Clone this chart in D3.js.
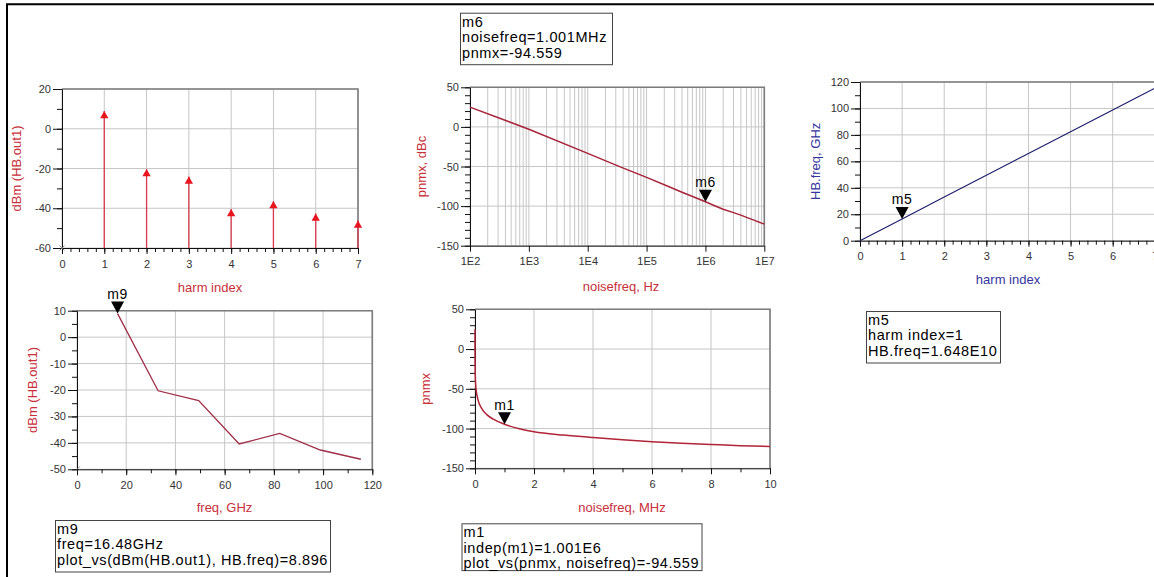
<!DOCTYPE html>
<html><head><meta charset="utf-8">
<script src="https://cdn.jsdelivr.net/npm/d3@7"></script>
<style>
html,body{margin:0;padding:0;background:#fff;overflow:hidden}
svg{display:block;font-family:"Liberation Sans",Arial,sans-serif}
</style></head><body>
<svg id="c" width="1154" height="577"></svg>
<script>
// ---------------- data ----------------
const harmIndex = [0, 1, 2, 3, 4, 5, 6, 7];
const hbFreqGHz = [0, 16.48, 32.96, 49.44, 65.92, 82.40, 98.88, 115.36];
// dBm(HB.out1) per harmonic (DC term is below the plotted range)
const harmDbm = [null, 8.896, -20.3, -24.0, -40.4, -36.4, -42.7, -46.2];

const noiseFreqHz = [1e2, 1e3, 1e4, 3.4e4, 1e5, 2.3e5, 4e5, 6.2e5, 1.001e6, 1.5e6, 2e6, 3e6, 4e6, 5e6, 6e6, 7e6, 8e6, 9e6, 1e7];
const pnmx       = [25, -3, -33.4, -49.8, -63.7, -75.0, -82.5, -88.2, -94.559, -100.2, -104.0, -108.2, -111.4, -114.2, -116.5, -118.4, -120.0, -121.5, -122.6];

const harmTicks = [0, 1, 2, 3, 4, 5, 6, 7];
const dbmTicksTop = [-60, -40, -20, 0, 20];
const dbmTicksBot = [-50, -40, -30, -20, -10, 0, 10];
const pnTicks = [-150, -100, -50, 0, 50];
const logTicks = [1e2, 1e3, 1e4, 1e5, 1e6, 1e7];
const logTickLabels = ["1E2", "1E3", "1E4", "1E5", "1E6", "1E7"];
const ghzTicks = [0, 20, 40, 60, 80, 100, 120];
const mhzTicks = [0, 2, 4, 6, 8, 10];
const hbTicks = [0, 20, 40, 60, 80, 100, 120];

const m6Text = ["m6", "noisefreq=1.001MHz", "pnmx=-94.559"];
const m5Text = ["m5", "harm index=1", "HB.freq=1.648E10"];
const m9Text = ["m9", "freq=16.48GHz", "plot_vs(dBm(HB.out1), HB.freq)=8.896"];
const m1Text = ["m1", "indep(m1)=1.001E6", "plot_vs(pnmx, noisefreq)=-94.559"];

// ---------------- drawing ----------------
const svg = d3.select("#c");
const RED = "#c8303a", BLUE = "#34349c";

svg.append("path").attr("d", "M7,577V4.2H1154").attr("fill", "none")
  .attr("stroke", "#000").attr("stroke-width", 2);

function range(a, b, s) { const r = []; for (let v = a; v <= b + 1e-9; v += s) r.push(+v.toFixed(6)); return r; }

function drawPlot(o) {
  const x = o.x, y = o.y;
  const [xl, xr] = x.range(); const [yb, yt] = y.range();
  const g = svg.append("g");
  g.append("g").selectAll("line").data(o.xGrid).join("line")
    .attr("x1", d => x(d)).attr("x2", d => x(d)).attr("y1", yt).attr("y2", yb)
    .attr("stroke", "#c6c6c6").attr("stroke-width", 1);
  g.append("g").selectAll("line").data(o.yGrid).join("line")
    .attr("y1", d => y(d)).attr("y2", d => y(d)).attr("x1", xl).attr("x2", xr)
    .attr("stroke", "#c6c6c6").attr("stroke-width", 1);
  g.append("path").attr("d", `M${xl},${yt}H${xr}V${yb}`).attr("fill", "none")
    .attr("stroke", "#7c7c7c").attr("stroke-width", 1.6);

  const style = s => {
    s.attr("font-family", null).attr("font-size", null);
    s.selectAll("text").attr("font-size", "11px").attr("fill", "#333");
    s.selectAll("line").attr("stroke", "#111");
    s.select(".domain").attr("stroke", "#111");
  };
  if (o.xMinor) g.append("g").attr("transform", `translate(0,${yb})`)
    .call(d3.axisBottom(x).tickValues(o.xMinor).tickSize(4).tickFormat(""))
    .call(s => s.select(".domain").remove()).call(style);
  g.append("g").attr("transform", `translate(0,${yb})`)
    .call(d3.axisBottom(x).tickValues(o.xMajor).tickSize(6).tickPadding(6).tickFormat(o.xFmt || (d => d)).tickSizeOuter(0))
    .call(style);
  if (o.yMinor) g.append("g").attr("transform", `translate(${xl},0)`)
    .call(d3.axisLeft(y).tickValues(o.yMinor).tickSize(5).tickFormat(""))
    .call(s => s.select(".domain").remove()).call(style);
  g.append("g").attr("transform", `translate(${xl},0)`)
    .call(d3.axisLeft(y).tickValues(o.yMajor).tickSize(9).tickPadding(2).tickFormat(d => d).tickSizeOuter(0))
    .call(style);

  g.append("text").attr("x", o.xTitleX).attr("y", o.xTitleY).attr("text-anchor", "middle")
    .attr("font-size", "13px").attr("fill", o.color).text(o.xTitle);
  g.append("text").attr("transform", `translate(${o.yTitleX},${(yt + yb) / 2}) rotate(-90)`)
    .attr("text-anchor", "middle").attr("dy", "0.35em")
    .attr("font-size", "13px").attr("fill", o.color).text(o.yTitle);
  return g;
}

function marker(g, px, py, name) {
  g.append("path").attr("d", `M${px - 6.5},${py - 12}L${px + 6.5},${py - 12}L${px},${py}Z`).attr("fill", "#000");
  g.append("text").attr("x", px).attr("y", py - 14.5).attr("text-anchor", "middle")
    .attr("font-size", "14px").attr("letter-spacing", "0.6px").attr("fill", "#000").text(name);
}

function box(bx, by, bw, bh, lines) {
  const g = svg.append("g");
  g.append("rect").attr("x", bx + 0.5).attr("y", by + 0.5).attr("width", bw).attr("height", bh)
    .attr("fill", "#fff").attr("stroke", "#444").attr("stroke-width", 1);
  g.selectAll("text").data(lines).join("text")
    .attr("x", bx + 2).attr("y", (d, i) => by + 13.8 + i * 15.6)
    .attr("font-size", "14.5px").attr("letter-spacing", "0.6px").attr("fill", "#000").text(d => d);
}

// ---- Plot 1: dBm(HB.out1) vs harmindex (stems) ----
{
  const x = d3.scaleLinear().domain([0, 7]).range([62, 358]);
  const y = d3.scaleLinear().domain([-60, 20]).range([248, 89]);
  const g = drawPlot({ x, y, xGrid: harmTicks, yGrid: dbmTicksTop, xMajor: harmTicks, xMinor: range(0, 7, 0.2),
    yMajor: dbmTicksTop, yMinor: range(-60, 20, 10), color: RED, xTitle: "harm index", xTitleX: 210, xTitleY: 291.5,
    yTitle: "dBm (HB.out1)", yTitleX: 16.5 });
  const pts = harmIndex.map((h, i) => [h, harmDbm[i]]).filter(d => d[1] !== null);
  g.append("g").selectAll("line").data(pts).join("line")
    .attr("x1", d => x(d[0])).attr("x2", d => x(d[0])).attr("y1", y(-60)).attr("y2", d => y(d[1]))
    .attr("stroke", "#d83a4c").attr("stroke-width", 1.3);
  g.append("g").selectAll("path").data(pts).join("path")
    .attr("transform", d => `translate(${x(d[0])},${y(d[1]) + 4.8})`)
    .attr("d", d3.symbol(d3.symbolTriangle).size(30)).attr("fill", "#e8141e");
  // clipped DC point indicator
  const cx = x(harmIndex[0]), cy = y(-60);
  g.append("path").attr("d", `M${cx - 2.5},${cy - 2.5}L${cx + 2.5},${cy + 2.5}M${cx - 2.5},${cy + 2.5}L${cx + 2.5},${cy - 2.5}`)
    .attr("stroke", "#777").attr("stroke-width", 0.8);
}

// ---- Plot 2: pnmx vs noisefreq (log) ----
{
  const x = d3.scaleLog().domain([1e2, 1e7]).range([470, 764.3]);
  const y = d3.scaleLinear().domain([-150, 50]).range([245.7, 87.3]);
  const g = drawPlot({ x, y, xGrid: x.ticks(), yGrid: pnTicks, xMajor: logTicks,
    xFmt: (d, i) => logTickLabels[i], yMajor: pnTicks, yMinor: range(-150, 50, 10), color: RED,
    xTitle: "noisefreq, Hz", xTitleX: 621, xTitleY: 290.5, yTitle: "pnmx, dBc", yTitleX: 421 });
  const line = d3.line().x(d => x(d[0])).y(d => y(d[1]));
  g.append("path").datum(noiseFreqHz.map((f, i) => [f, pnmx[i]])).attr("d", line)
    .attr("fill", "none").attr("stroke", "#a8243a").attr("stroke-width", 1.5);
  marker(g, x(noiseFreqHz[8]), y(pnmx[8]), "m6");
}

// ---- Plot 3: HB.freq vs harmindex ----
{
  const x = d3.scaleLinear().domain([0, 7]).range([860, 1154.8]);
  const y = d3.scaleLinear().domain([0, 120]).range([240.7, 82]);
  const g = drawPlot({ x, y, xGrid: harmTicks, yGrid: hbTicks, xMajor: harmTicks, xMinor: range(0, 7, 0.2),
    yMajor: hbTicks, yMinor: range(0, 120, 10), color: BLUE, xTitle: "harm index", xTitleX: 1008, xTitleY: 283.5,
    yTitle: "HB.freq, GHz", yTitleX: 815 });
  const line = d3.line().x(d => x(d[0])).y(d => y(d[1]));
  g.append("path").datum(harmIndex.map((h, i) => [h, hbFreqGHz[i]])).attr("d", line)
    .attr("fill", "none").attr("stroke", "#1c1c6c").attr("stroke-width", 1.1);
  marker(g, x(harmIndex[1]), y(hbFreqGHz[1]), "m5");
}

// ---- Plot 4: dBm(HB.out1) vs freq, GHz ----
{
  const x = d3.scaleLinear().domain([0, 120]).range([77, 372.3]);
  const y = d3.scaleLinear().domain([-50, 10]).range([469.3, 310.7]);
  const g = drawPlot({ x, y, xGrid: ghzTicks, yGrid: dbmTicksBot, xMajor: ghzTicks, xMinor: range(0, 120, 10),
    yMajor: dbmTicksBot, yMinor: range(-50, 10, 5), color: RED, xTitle: "freq, GHz", xTitleX: 224.5, xTitleY: 512,
    yTitle: "dBm (HB.out1)", yTitleX: 32 });
  const pts = hbFreqGHz.map((f, i) => [f, harmDbm[i]]).filter(d => d[1] !== null);
  g.append("path").datum(pts).attr("d", d3.line().x(d => x(d[0])).y(d => y(d[1])))
    .attr("fill", "none").attr("stroke", "#a02e48").attr("stroke-width", 1.3);
  const cx = x(hbFreqGHz[0]), cy = y(-50);
  g.append("path").attr("d", `M${cx},${cy}L${cx + 3},${cy - 3}`).attr("stroke", "#777").attr("stroke-width", 0.8);
  marker(g, x(hbFreqGHz[1]), y(harmDbm[1]), "m9");
}

// ---- Plot 5: pnmx vs noisefreq, MHz ----
{
  const x = d3.scaleLinear().domain([0, 10]).range([475, 770]);
  const y = d3.scaleLinear().domain([-150, 50]).range([468.3, 309.3]);
  const g = drawPlot({ x, y, xGrid: mhzTicks, yGrid: pnTicks, xMajor: mhzTicks, xMinor: range(0, 10, 1),
    yMajor: pnTicks, yMinor: range(-150, 50, 10), color: RED, xTitle: "noisefreq, MHz", xTitleX: 622, xTitleY: 512.3,
    yTitle: "pnmx", yTitleX: 425 });
  const line = d3.line().x(d => x(d[0] / 1e6)).y(d => y(d[1])).curve(d3.curveMonotoneX);
  g.append("path").datum(noiseFreqHz.map((f, i) => [f, pnmx[i]])).attr("d", line)
    .attr("fill", "none").attr("stroke", "#b02538").attr("stroke-width", 1.5);
  marker(g, x(noiseFreqHz[8] / 1e6), y(pnmx[8]), "m1");
}

// ---- marker readout boxes ----
box(460, 12.7, 152, 51.5, m6Text);
box(866, 311, 134, 51.5, m5Text);
box(55, 520, 275, 51.5, m9Text);
box(461.5, 523.3, 240, 46.8, m1Text);
</script>
</body></html>
